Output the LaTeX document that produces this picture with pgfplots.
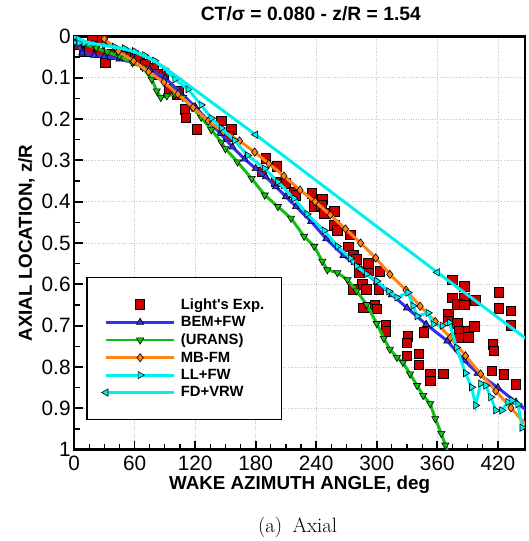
\documentclass[border=0pt]{standalone}
\usepackage{fontspec}
\newfontfamily\arial{Liberation Sans}
\usepackage{pgfplots}
\pgfplotsset{compat=1.18}
\usetikzlibrary{calc}
\definecolor{cred}{RGB}{204,0,0}
\definecolor{cblue}{RGB}{50,50,235}
\definecolor{cgreen}{RGB}{20,190,20}
\definecolor{corange}{RGB}{255,130,20}
\definecolor{ccyan}{RGB}{0,240,240}

\pgfplotstableread{
x y
5 0.020
10 0.038
12 0.028
18 0.002
20 0.030
28 0.006
15 0.036
25 0.040
31 0.064
38 0.044
45 0.042
51 0.048
57 0.050
61 0.052
65 0.056
71 0.068
79 0.076
84 0.092
89 0.096
94 0.128
102 0.140
104 0.132
110 0.177
111 0.197
122 0.225
146 0.205
156 0.225
153 0.242
186 0.328
190 0.295
201 0.315
200 0.352
210 0.356
218 0.378
220 0.385
236 0.380
238 0.402
246 0.395
238 0.412
245 0.409
248 0.429
258 0.424
258 0.457
261 0.470
274 0.480
272 0.510
277 0.529
280 0.540
283 0.573
292 0.566
292 0.549
303 0.569
286 0.600
290 0.613
302 0.613
277 0.612
287 0.657
298 0.650
300 0.660
309 0.700
309 0.714
331 0.726
330 0.742
330 0.773
342 0.769
342 0.795
347 0.716
353 0.817
353 0.834
366 0.817
371 0.673
371 0.689
375 0.590
375 0.633
387 0.605
387 0.633
380 0.649
387 0.650
398 0.639
380 0.695
382 0.713
382 0.730
391 0.713
391 0.729
397 0.702
415 0.745
416 0.761
414 0.810
426 0.818
438 0.842
421 0.620
421 0.658
433 0.665
433 0.700
}\light

\pgfplotstableread{
x y
0 0.000
8 0.040
20 0.046
30 0.049
45 0.055
60 0.065
75 0.080
90 0.100
105 0.135
120 0.170
133 0.205
145 0.235
157 0.268
169 0.297
180 0.320
190 0.340
200 0.364
210 0.388
220 0.412
235 0.448
250 0.490
267 0.530
285 0.565
300 0.595
315 0.625
330 0.657
349 0.697
370 0.737
387 0.785
400 0.815
420 0.850
438 0.885
452 0.912
}\bem

\pgfplotstableread{
x y
0 0.000
9 0.018
22 0.028
33 0.038
45 0.048
58 0.064
68 0.075
77 0.104
82 0.132
86 0.148
92 0.144
100 0.140
108 0.148
117 0.172
126 0.196
136 0.226
146 0.256
150 0.272
162 0.304
176 0.344
189 0.384
202 0.412
215 0.440
228 0.484
238 0.508
246 0.544
251 0.565
261 0.572
271 0.589
280 0.616
290 0.649
300 0.695
307 0.731
313 0.757
320 0.777
326 0.789
333 0.817
340 0.845
346 0.869
353 0.889
358 0.925
364 0.961
368 0.989
371 1.010
}\urans

\pgfplotstableread{
x y
30 0.006
44 0.036
59 0.060
74 0.086
89 0.111
103 0.140
118 0.172
133 0.205
148 0.231
164 0.253
179 0.280
193 0.308
208 0.338
224 0.372
239 0.400
254 0.432
269 0.466
284 0.500
299 0.536
313 0.576
329 0.614
343 0.653
358 0.690
373 0.729
388 0.773
403 0.817
418 0.858
433 0.899
448 0.940
}\mbfm

\pgfplotstableread{
x y
0 0.015
5 0.016
10 0.017
20 0.018
30 0.021
40 0.025
50 0.029
60 0.036
70 0.046
80 0.059
90 0.079
100 0.104
113 0.128
126 0.166
136 0.198
146 0.222
159 0.252
172 0.288
189 0.320
202 0.352
218 0.392
231 0.430
248 0.470
261 0.508
274 0.537
280 0.556
290 0.575
300 0.592
312 0.617
320 0.632
331 0.620
336 0.652
340 0.677
351 0.669
356 0.697
365 0.700
372 0.692
379 0.753
388 0.815
394 0.849
398 0.893
403 0.840
408 0.845
413 0.873
418 0.905
424 0.905
430 0.885
434 0.881
440 0.890
444 0.947
450 0.945
}\llfw

\pgfplotstableread{
x y
0 0.000
10 0.012
20 0.018
30 0.022
40 0.026
50 0.031
60 0.038
70 0.048
80 0.061
90 0.076
180 0.238
360 0.571
450 0.735
}\fdvrw

\begin{document}
\begin{tikzpicture}
\begin{axis}[name=ax,
  width=454.4bp, height=416.4bp, scale only axis,
  xmin=0, xmax=447, ymin=0, ymax=1, y dir=reverse,
  clip marker paths=true,
  xtick={0,60,120,180,240,300,360,420}, minor x tick num=3,
  ytick={0,0.1,0.2,0.3,0.4,0.5,0.6,0.7,0.8,0.9,1},
  yticklabels={0,0.1,0.2,0.3,0.4,0.5,0.6,0.7,0.8,0.9,1},
  minor y tick num=1,
  tick pos=left, tick align=inside,
  major tick length=9bp, minor tick length=5.5bp,
  major tick style={line width=1.8bp, black},
  minor tick style={line width=1.2bp, black},
  axis line style={line width=2.7bp},
  grid=major, major grid style={dotted, gray!45, line width=0.6bp},
  /pgf/number format/assume math mode=true,
  ticklabel style={font=\arial\fontsize{21}{21}\selectfont},
  xticklabel style={yshift=-3bp},
  xlabel={WAKE AZIMUTH ANGLE, deg},
  ylabel={AXIAL LOCATION, z/R},
  label style={font=\arial\bfseries\fontsize{19}{19}\selectfont},
  xlabel style={yshift=1.5bp},
  title={CT/σ = 0.080 - z/R = 1.54},
  title style={font=\arial\bfseries\fontsize{19.5}{19.5}\selectfont, at={(0.525,1)}, anchor=base, yshift=10bp},
  legend style={at={(0.027,0.072)}, anchor=south west, draw=black, line width=1.3bp, fill=white,
     font=\arial\bfseries\fontsize{15}{18}\selectfont, inner xsep=15bp, inner ysep=19bp, row sep=1.8bp,
     /tikz/every odd column/.append style={column sep=3bp}},
  legend cell align=left,
  legend image code/.code={\draw[mark repeat=2,mark phase=2,#1] plot coordinates {(0bp,0bp) (34.5bp,0bp) (69bp,0bp)};},
]
\addplot[only marks, mark=square*, mark size=4.8bp, mark options={fill=cred, draw=black, line width=0.9bp}] table {\light};
\addlegendentry{Light's Exp.}
\addplot[cblue, line width=3bp, mark=triangle*, mark size=4.2bp, mark options={fill=cblue, draw=black, line width=0.6bp}] table {\bem};
\addlegendentry{BEM+FW}
\addplot[cgreen, line width=3bp, mark=triangle*, mark size=4.2bp, mark options={rotate=180, fill=cgreen, draw=black, line width=0.6bp}] table {\urans};
\addlegendentry{(URANS)}
\addplot[corange, line width=3bp, mark=diamond*, mark size=4.2bp, mark options={fill=corange, draw=black, line width=0.6bp}] table {\mbfm};
\addlegendentry{MB-FM}
\addplot[ccyan, line width=3bp, mark=triangle*, mark size=4.2bp, mark options={rotate=-90, fill=ccyan, draw=black, line width=0.6bp}] table {\llfw};
\addlegendentry{LL+FW}
\addplot[ccyan, line width=3bp, mark=triangle*, mark size=4.2bp, mark indices={1,11,12}, mark options={rotate=90, fill=ccyan, draw=black, line width=0.6bp}] table {\fdvrw};
\addlegendentry{FD+VRW}
\end{axis}
\node[font=\fontsize{21}{21}\selectfont, anchor=base] at ($(ax.south)+(-2bp,-83.5bp)$) {(a)\hspace{0.5em}Axial};
\path ($(ax.south west)+(-74.6bp,-88bp)$) rectangle ($(ax.north east)+(3bp,36.6bp)$);
\end{tikzpicture}
\end{document}
